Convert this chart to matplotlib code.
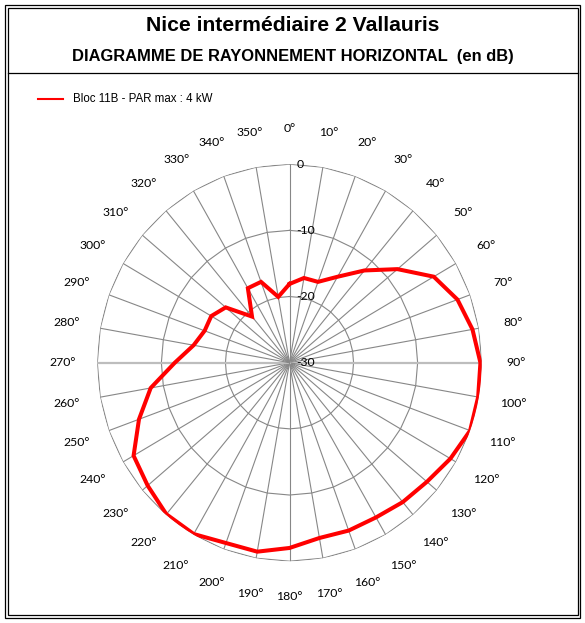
import numpy as np
import matplotlib
matplotlib.use("Agg")
import matplotlib.pyplot as plt
from matplotlib.lines import Line2D
from matplotlib.patches import Rectangle

# ---- data ----
title = "Nice intermédiaire 2 Vallauris"
subtitle = "DIAGRAMME DE RAYONNEMENT HORIZONTAL  (en dB)"
series_name = "Bloc 11B - PAR max : 4 kW"
angles_deg = list(range(0, 360, 10))
attenuation_db = [-18.1, -17.0, -17.0, -15.0, -11.8, -8.0, -4.0, -2.1, -1.0,
                  -0.2, -0.1, 0.0, -1.0, -2.0, -2.5, -3.0, -3.0, -3.1,
                  -2.0, -1.0, -1.0, -0.1, -0.1, -1.1, -1.9, -5.0, -8.0,
                  -12.1, -14.8, -15.9, -15.9, -17.0, -20.9, -17.0, -17.0, -19.9]
ring_values = [-30, -20, -10, 0]
ring_labels = ["-30", "-20", "-10", "0"]
angle_labels = [f"{a}°" for a in angles_deg]

W, H = 585, 623
fig = plt.figure(figsize=(W / 100, H / 100), dpi=100)
fig.patch.set_facecolor("white")

# frame (double line) and header separator
def px_rect(x0, y0, x1, y1, lw):
    fig.add_artist(Rectangle((x0 / W, 1 - y1 / H), (x1 - x0) / W, (y1 - y0) / H,
                             transform=fig.transFigure, fill=False,
                             edgecolor="black", linewidth=lw))
px_rect(5, 5, 580, 617.5, 0.9)
px_rect(7.5, 7.5, 577.5, 615, 0.9)
fig.add_artist(Line2D([7.5 / W, 577.5 / W], [1 - 72.7 / H, 1 - 72.7 / H],
                      transform=fig.transFigure, color="black", linewidth=0.9))

fig.text(0.5, 1 - 25.5 / H, title, ha="center", va="center",
         fontsize=15.2, fontweight="bold", family="Liberation Sans")
fig.text(0.5, 1 - 57 / H, subtitle, ha="center", va="center",
         fontsize=11.9, fontweight="bold", family="Liberation Sans")

# legend
fig.add_artist(Line2D([38 / W, 63 / W], [1 - 99 / H, 1 - 99 / H],
                      transform=fig.transFigure, color="#ff0000", linewidth=1.5))
fig.text(72.7 / W, 1 - 99 / H, series_name, ha="left", va="center",
         fontsize=8.3, family="Liberation Sans")

# polar axes (slightly elliptical like the source)
cx, cy, rx, ry = 289.5, 362.7, 192.2, 198.5
ax = fig.add_axes([(cx - rx) / W, 1 - (cy + ry) / H, 2 * rx / W, 2 * ry / H],
                  projection="polar")
ax.set_aspect("auto")
ax.set_theta_zero_location("N")
ax.set_theta_direction(-1)
ax.set_ylim(ring_values[0], ring_values[-1])
ax.grid(False)
ax.set_xticks([])
ax.set_yticks([])
ax.spines["polar"].set_visible(False)
ax.patch.set_alpha(0)

th = np.deg2rad(angles_deg)
th_closed = np.append(th, th[0])

grid_col = "#878787"
for v in ring_values[1:]:
    ax.plot(th_closed, [v] * len(th_closed), color=grid_col, linewidth=0.8, zorder=1)
for a, t in zip(angles_deg, th):
    if a in (90, 270):
        ax.plot([t, t], [ring_values[0], ring_values[-1]], color="#bdbdbd",
                linewidth=1.6, zorder=1)
    else:
        ax.plot([t, t], [ring_values[0], ring_values[-1]], color=grid_col,
                linewidth=0.8, zorder=1)

vals_closed = attenuation_db + [attenuation_db[0]]
ax.plot(th_closed, vals_closed, color="#ff0000", linewidth=2.9, zorder=3,
        solid_joinstyle="miter")

# radial value labels
for v, lab in zip(ring_values, ring_labels):
    ax.annotate(lab, xy=(0, v), xytext=(7, 0), textcoords="offset pixels",
                ha="left", va="center", fontsize=8.8, family="Lato",
                color="black", zorder=4)

# angle labels
r_lab = ring_values[0] + (ring_values[-1] - ring_values[0]) * 1.18
for t, lab in zip(th, angle_labels):
    ax.text(t, r_lab, lab, ha="center", va="center", fontsize=8.8,
            family="Lato", color="black")

fig.savefig("out.png", dpi=100)
